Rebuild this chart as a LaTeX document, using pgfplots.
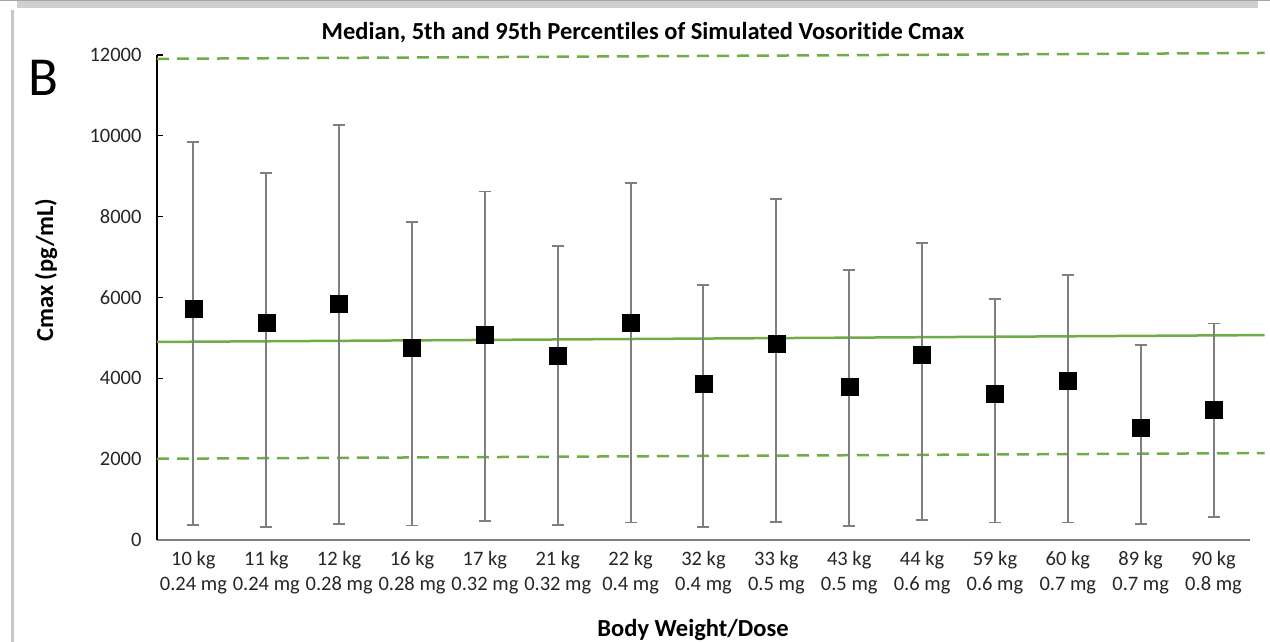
\documentclass[border=0pt]{standalone}
\usepackage{fontspec}
\setmainfont{Carlito}[Ligatures=NoCommon]
\usepackage{pgfplots}
\usepackage{pgfplotstable}
\pgfplotsset{compat=1.18}

\definecolor{xlgreen}{HTML}{70AD47}
\definecolor{errgray}{HTML}{7F7F7F}
\definecolor{txtgray}{HTML}{262626}
\newcommand\tfont{\fontsize{20.5}{25}\selectfont}
\newcommand\lfont{\fontsize{24.5}{29}\selectfont}

% median, 5th and 95th percentile of simulated Cmax (pg/mL)
\pgfplotstableread{
x  med   p5   p95
0  5720  370  9850
1  5370  320  9080
2  5850  400  10270
3  4770  360  7870
4  5070  470  8620
5  4550  370  7270
6  5380  430  8830
7  3860  320  6310
8  4850  440  8440
9  3800  350  6680
10 4580  490  7350
11 3630  430  5960
12 3950  430  6560
13 2790  400  4820
14 3230  570  5360
}\cmaxdata

\begin{document}
\begin{tikzpicture}[x=1pt,y=1pt]
\useasboundingbox (0,0) rectangle (1270,642);
\fill[white] (0,0) rectangle (1270,642);
% panel frame
\fill[black!19] (17,634) rectangle (1258,642);
\draw[black!35, line width=1.2pt] (0,641.4) -- (1270,641.4);
\fill[black!22] (11,0) rectangle (13.5,632);

\node[font=\fontsize{55}{60}\selectfont] at (43,564) {B};
\node[font=\bfseries\lfont] at (643,609) {Median, 5th and 95th Percentiles of Simulated Vosoritide Cmax};
\node[font=\bfseries\lfont, rotate=90] at (46,372) {Cmax (pg/mL)};
\node[font=\bfseries\lfont] at (693,12) {Body Weight/Dose};

\begin{axis}[
  at={(157pt,102pt)}, anchor=south west,
  scale only axis, width=1093pt, height=485pt,
  xmin=-0.5, xmax=14.5, ymin=0, ymax=12000,
  clip=false, scaled y ticks=false,
  axis x line*=bottom, axis y line*=left,
  x axis line style={draw=errgray, line width=2pt},
  y axis line style={draw=black, line width=1.5pt},
  tick align=inside, major tick length=6pt,
  ytick={0,2000,4000,6000,8000,10000,12000},
  yticklabels={0,2000,4000,6000,8000,10000,12000},
  ytick style={black, line width=1.2pt},
  yticklabel style={font=\tfont, text=txtgray, xshift=-12pt},
  xtick={0,...,14},
  xticklabels={{10 kg\\0.24 mg},{11 kg\\0.24 mg},{12 kg\\0.28 mg},{16 kg\\0.28 mg},{17 kg\\0.32 mg},{21 kg\\0.32 mg},{22 kg\\0.4 mg},{32 kg\\0.4 mg},{33 kg\\0.5 mg},{43 kg\\0.5 mg},{44 kg\\0.6 mg},{59 kg\\0.6 mg},{60 kg\\0.7 mg},{89 kg\\0.7 mg},{90 kg\\0.8 mg}},
  xtick style={draw=none},
  xticklabel style={font=\tfont, text=txtgray, align=center, yshift=-8pt},
]
% reference lines
\addplot[xlgreen, line width=2.5pt] coordinates {(-0.5,4900) (14.7,5070)};
\addplot[xlgreen, line width=2.5pt, dash pattern=on 12pt off 8pt] coordinates {(-0.5,11905) (14.7,12050)};
\addplot[xlgreen, line width=2.5pt, dash pattern=on 12pt off 8pt] coordinates {(-0.5,2010) (14.7,2150)};
% medians with 5th-95th percentile bars
\addplot[only marks, mark=square*, mark size=8.5pt, mark options={fill=black, draw=black},
  error bars/.cd, y dir=both, y explicit,
  error bar style={errgray, line width=2pt},
  error mark options={errgray, line width=1.5pt, mark size=6pt, rotate=90}]
  table[x=x, y=med,
        y error plus expr=\thisrow{p95}-\thisrow{med},
        y error minus expr=\thisrow{med}-\thisrow{p5}] {\cmaxdata};
\end{axis}
\end{tikzpicture}
\end{document}
